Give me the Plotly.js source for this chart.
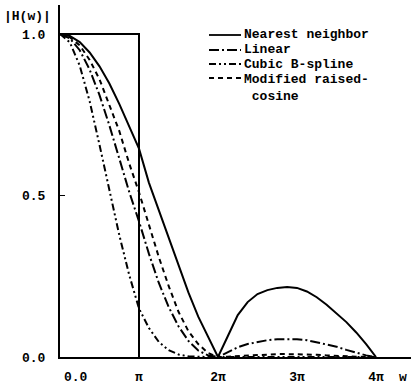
<!DOCTYPE html>
<html>
<head>
<meta charset="utf-8">
<script src="https://cdn.plot.ly/plotly-3.0.1.min.js"></script>
<style>html,body{margin:0;padding:0;background:#fff;}#chart{width:411px;height:387px;}</style>
</head>
<body>
<div id="chart"></div>
<script>
// frequency w in units of pi
const w = [0,0.125,0.25,0.375,0.5,0.625,0.75,0.875,1,1.125,1.25,1.375,1.5,1.625,1.75,1.875,2,
           2.125,2.25,2.375,2.5,2.625,2.75,2.875,3,3.125,3.25,3.375,3.5,3.625,3.75,3.875,4];

const nearestNeighbor = [1,0.994,0.975,0.943,0.90,0.847,0.784,0.714,0.645,0.54,0.455,0.37,0.285,0.20,0.125,0.06,0,
                         0.065,0.13,0.17,0.195,0.207,0.214,0.217,0.214,0.203,0.185,0.162,0.136,0.108,0.076,0.04,0];
const linear = [1,0.987,0.95,0.89,0.811,0.717,0.615,0.512,0.42,0.32,0.23,0.155,0.095,0.05,0.02,0.005,0,
                0.015,0.03,0.04,0.047,0.052,0.055,0.056,0.055,0.052,0.046,0.04,0.032,0.022,0.013,0.005,0];
const cubicBSpline = [1,0.974,0.902,0.792,0.657,0.515,0.378,0.255,0.15,0.09,0.047,0.021,0.008,0.002,0.0005,0,0,
                      0,0,0,0,0,0,0,0,0,0,0,0,0,0,0,0];
const modRaisedCosine = [1,0.99,0.965,0.92,0.86,0.78,0.70,0.60,0.51,0.41,0.31,0.22,0.14,0.08,0.04,0.012,0,
                         0.001,0.003,0.005,0.007,0.008,0.009,0.009,0.009,0.008,0.007,0.005,0.003,0.002,0.001,0,0];

// ideal low-pass filter (box from 0 to pi)
const idealW = [0,1,1];
const idealH = [1,1,0];

const seriesNames = ['Nearest neighbor','Linear','Cubic B-spline','Modified raised-<br>\u00a0cosine'];
const seriesDash = ['solid','10px,3px,2px,3px','7px,3px,2px,3px,2px,3px','5px,4px'];
const seriesData = [nearestNeighbor, linear, cubicBSpline, modRaisedCosine];

const xTickVals = [1,2,3,4];
const xTickText = ['π','2π','3π','4π'];
const yTickVals = [0,0.5,1];
const yTickText = ['0.0','0.5','1.0'];

const FONT = {family:'Liberation Mono, DejaVu Sans Mono, monospace', size:13, color:'#000'};

const traces = seriesData.map((y,i)=>({
  x: w, y: y, type:'scatter', mode:'lines', showlegend:false,
  line:{color:'#000', width:2, dash:seriesDash[i]}
}));
traces.push({x:idealW, y:idealH, type:'scatter', mode:'lines', showlegend:false,
  line:{color:'#000', width:2}});

// plot area in pixels: x 60..411, y 5..357
const px = v => (v-60)/351;
const py = v => (357-v)/352;

const legendRows = [35,50,64,78];
const shapes = [];
const annotations = [];
seriesNames.forEach((n,i)=>{
  shapes.push({type:'line', xref:'paper', yref:'paper', x0:px(209), x1:px(241), y0:py(legendRows[i]), y1:py(legendRows[i]),
    line:{color:'#000', width:1.8, dash:seriesDash[i]}});
  const multi = n.indexOf('<br>')>=0;
  annotations.push({xref:'paper', yref:'paper', x:px(242), y: multi ? py(legendRows[i]-8) : py(legendRows[i]),
    xanchor:'left', yanchor: multi ? 'top':'middle', align:'left', showarrow:false, text:'<b>'+n+'</b>', font:FONT});
});
annotations.push({xref:'paper', yref:'paper', x:px(27), y:py(17), xanchor:'center', yanchor:'middle', showarrow:false,
  text:'<b>|H(w)|</b>', font:FONT});
annotations.push({xref:'paper', yref:'paper', x:px(76), y:py(377), xanchor:'center', yanchor:'middle', showarrow:false,
  text:'<b>0.0</b>', font:FONT});
annotations.push({xref:'paper', yref:'paper', x:px(403), y:py(377), xanchor:'center', yanchor:'middle', showarrow:false,
  text:'<b>w</b>', font:FONT});

const layout = {
  width:411, height:387,
  margin:{l:60, r:0, t:5, b:30, pad:0},
  paper_bgcolor:'#fff', plot_bgcolor:'#fff',
  font:FONT,
  showlegend:false,
  xaxis:{range:[0,4.443], showgrid:false, zeroline:false, showline:true, linecolor:'#000', linewidth:2,
    tickvals:xTickVals, ticktext:xTickText, ticks:'', ticklabelstandoff:6,
    tickfont:{family:FONT.family, size:13, color:'#000', weight:'bold'}, fixedrange:true},
  yaxis:{range:[0,1.09], showgrid:false, zeroline:false, showline:true, linecolor:'#000', linewidth:2,
    tickvals:yTickVals, ticktext:yTickText, ticks:'inside', ticklen:5, tickwidth:1.5, tickcolor:'#000',
    ticklabelstandoff:10, tickfont:{family:FONT.family, size:13, color:'#000', weight:'bold'}, fixedrange:true},
  shapes:shapes,
  annotations:annotations
};

Plotly.newPlot('chart', traces, layout, {staticPlot:true, displayModeBar:false});
</script>
</body>
</html>
